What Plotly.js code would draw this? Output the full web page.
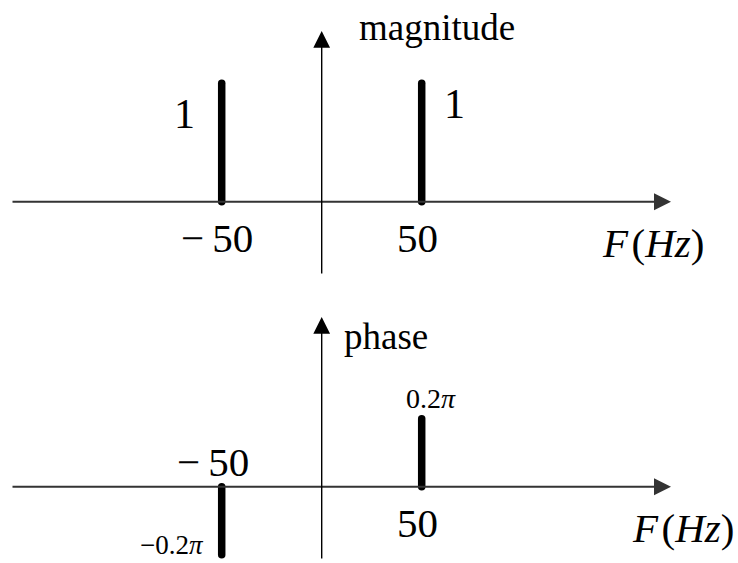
<!DOCTYPE html>
<html>
<head>
<meta charset="utf-8">
<script src="https://cdn.plot.ly/plotly-3.0.1.min.js"></script>
<style>
  html, body { margin: 0; padding: 0; background: #fff; }
  #chart { width: 738px; height: 563px; }
  .js-line { stroke-linecap: round !important; }
</style>
</head>
<body>
<div id="chart"></div>
<script>
// Two-sided spectrum of a single sinusoid: magnitude and phase lines at ±50 Hz
const frequencies = [-50, 50];
const magnitudes = [1, 1];
const phasesInPi = [-0.2, 0.2];          // phase, in units of π
const frequencyTickLabels = ['\u2212\u200950', '50'];
const magnitudeLabels = ['1', '1'];
const phaseLabels = ['\u22120.2<i>\u03c0</i>', '0.2<i>\u03c0</i>'];
const freqAxisTitle = '<i>F</i>\u200a(<i>Hz</i>)';
const magnitudeTitle = 'magnitude';
const phaseTitle = 'phase';

const W = 738, H = 563;
const SERIF = '"Liberation Serif", "Times New Roman", serif';

// pixel position on the page -> paper coordinates
function paper(px, py) { return { x: px / W, y: 1 - py / H }; }

function stemTrace(values, yaxis) {
  return {
    type: 'scatter',
    mode: 'lines',
    x: frequencies.flatMap(f => [f, f, null]),
    y: values.flatMap(v => [0, v, null]),
    xaxis: 'x',
    yaxis: yaxis,
    line: { color: '#000', width: 7.5 },
    hoverinfo: 'skip',
    showlegend: false
  };
}

function text(str, size, extra) {
  return Object.assign({
    text: str,
    showarrow: false,
    font: { family: SERIF, size: size, color: '#000' },
    xanchor: 'center',
    yanchor: 'middle',
    borderpad: 0
  }, extra);
}

function paperText(str, size, px, py) {
  const p = paper(px, py);
  return text(str, size, { xref: 'paper', yref: 'paper', x: p.x, y: p.y });
}

// axis line ending in a filled arrowhead at (px, py); tail given as pixel offset
function axisArrow(px, py, ax, ay, color, width, size) {
  const p = paper(px, py);
  return {
    xref: 'paper', yref: 'paper', x: p.x, y: p.y,
    axref: 'pixel', ayref: 'pixel', ax: ax, ay: ay,
    text: '', showarrow: true,
    arrowhead: 2, arrowsize: size, arrowwidth: width, arrowcolor: color,
    standoff: 0, startstandoff: 0
  };
}

const annotations = [];

// axes with arrows
annotations.push(axisArrow(671, 201.7, -660, 0, '#333', 2, 1.7));
annotations.push(axisArrow(321.7, 31, 0, 244, '#000', 1.4, 2.4));
annotations.push(axisArrow(671, 486.7, -660, 0, '#333', 2, 1.7));
annotations.push(axisArrow(321.7, 317, 0, 243, '#000', 1.4, 2.4));

// titles
annotations.push(paperText(magnitudeTitle, 37, 437, 27));
annotations.push(paperText(phaseTitle, 37, 386, 336));
annotations.push(paperText(freqAxisTitle, 41, 653, 243));
annotations.push(paperText(freqAxisTitle, 41, 683, 528));

// magnitude panel labels
const magLabelShift = [[-37, -31], [33, -21]];
frequencies.forEach((f, i) => {
  annotations.push(text(magnitudeLabels[i], 42, {
    xref: 'x', yref: 'y', x: f, y: magnitudes[i],
    xshift: magLabelShift[i][0], yshift: magLabelShift[i][1]
  }));
  annotations.push(text(frequencyTickLabels[i], 41, {
    xref: 'x', yref: 'y', x: f, y: 0,
    xshift: i === 0 ? -4.5 : -4, yshift: -36
  }));
});

// phase panel labels
const phaseLabelShift = [[-50, 10], [9, 20]];
const phaseLabelSize = [27, 28];
const phaseTickShift = [[-9, 25], [-4, -36]];
frequencies.forEach((f, i) => {
  annotations.push(text(phaseLabels[i], phaseLabelSize[i], {
    xref: 'x', yref: 'y2', x: f, y: phasesInPi[i],
    xshift: phaseLabelShift[i][0], yshift: phaseLabelShift[i][1]
  }));
  annotations.push(text(frequencyTickLabels[i], 41, {
    xref: 'x', yref: 'y2', x: f, y: 0,
    xshift: phaseTickShift[i][0], yshift: phaseTickShift[i][1]
  }));
});

const hidden = { visible: false, fixedrange: true, showgrid: false, zeroline: false };

const layout = {
  width: W, height: H,
  margin: { l: 0, r: 0, t: 0, b: 0, pad: 0 },
  paper_bgcolor: '#fff',
  plot_bgcolor: 'rgba(0,0,0,0)',
  showlegend: false,
  xaxis: Object.assign({ range: [-160.85, 208.15] }, hidden),
  yaxis: Object.assign({ range: [-3.0515, 1.7035] }, hidden),
  yaxis2: Object.assign({ range: [-0.2244, 1.4315], overlaying: 'y' }, hidden),
  annotations: annotations
};

Plotly.newPlot('chart',
  [stemTrace(magnitudes, 'y'), stemTrace(phasesInPi, 'y2')],
  layout,
  { displayModeBar: false, staticPlot: true });
</script>
</body>
</html>
